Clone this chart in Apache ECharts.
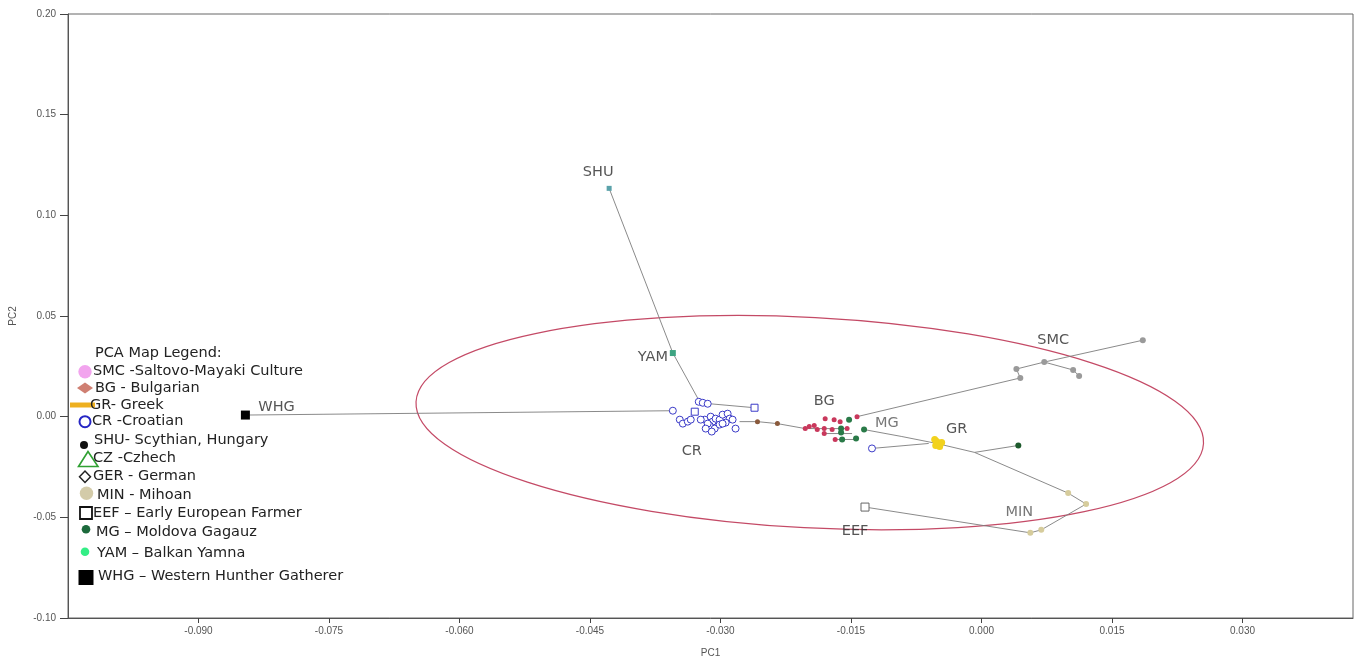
<!DOCTYPE html>
<html><head><meta charset="utf-8">
<script src="https://cdn.jsdelivr.net/npm/echarts@6/dist/echarts.min.js"></script>
<style>html,body{margin:0;padding:0;background:#fff}#c{width:1357px;height:663px}</style>
</head><body><div id="c"></div>
<script>
// ---- axes ----
const xMin = -0.105, xMax = 0.0427, xStep = 0.015;
const yMin = -0.10, yMax = 0.20, yStep = 0.05;
const xName = 'PC1', yName = 'PC2';

// ---- points (PC1, PC2) ----
const whg = [[-0.08461, 0.0008]];
const shu = [[-0.04280, 0.1134]];
const yam = [[-0.03548, 0.0316]];
const eef = [[-0.01339, -0.0449]];
const crCircles = [
  [-0.03548, 0.00296], [-0.03250, 0.00740], [-0.03204, 0.00690], [-0.03147, 0.00641],
  [-0.03468, -0.00148], [-0.03433, -0.00345], [-0.03376, -0.00247], [-0.03342, -0.00148],
  [-0.03181, -0.00148], [-0.03113, 0.0], [-0.03090, -0.00247], [-0.03056, -0.00099],
  [-0.03010, -0.00148], [-0.02976, 0.00099], [-0.02918, 0.00148], [-0.02895, -0.00099],
  [-0.02861, -0.00148], [-0.02941, -0.00296], [-0.03124, -0.00444], [-0.03067, -0.00592],
  [-0.03101, -0.00740], [-0.02827, -0.00592], [-0.03147, -0.00345], [-0.03010, -0.00394],
  [-0.02976, -0.00345], [-0.03227, -0.00148], [-0.03170, -0.00592], [-0.01259, -0.01578]
];
const crSquares = [[-0.03296, 0.00247], [-0.02609, 0.00444]];
const bg = [
  [-0.02026, -0.00592], [-0.01980, -0.00493], [-0.01923, -0.00444], [-0.01797, -0.00099],
  [-0.01694, -0.00148], [-0.01625, -0.00247], [-0.01431, 0.0], [-0.01808, -0.00592],
  [-0.01717, -0.00641], [-0.01808, -0.00838], [-0.01682, -0.01134], [-0.01888, -0.00641],
  [-0.01545, -0.00592]
];
const bgBrown = [[-0.02575, -0.00247], [-0.02346, -0.00345]];
const mg = [
  [-0.01522, -0.00148], [-0.01614, -0.00592], [-0.01614, -0.00789], [-0.01350, -0.00641],
  [-0.01442, -0.01085], [-0.01602, -0.01134]
];
const mgFar = [[0.00423, -0.01430]];
const gr = [
  [-0.00538, -0.01134], [-0.00504, -0.01331], [-0.00481, -0.01479], [-0.00515, -0.01233],
  [-0.00458, -0.01282], [-0.00526, -0.01430]
];
const smc = [
  [0.01854, 0.03797], [0.00721, 0.02712], [0.00401, 0.02367], [0.00446, 0.01923],
  [0.01053, 0.02318], [0.01122, 0.02022]
];
const minoan = [[0.00996, -0.03797], [0.01202, -0.04339], [0.00687, -0.05621], [0.00561, -0.05769]];

// ---- tree connections ----
const treePaths = [
  [[-0.08461, 0.0008], [-0.03548, 0.00296]],
  [[-0.04280, 0.1134], [-0.03548, 0.0316], [-0.03239, 0.0074]],
  [[-0.03250, 0.0069], [-0.02609, 0.00444]],
  [[-0.02781, -0.00247], [-0.02575, -0.00247], [-0.02346, -0.00345], [-0.02026, -0.00592]],
  [[-0.02026, -0.00592], [-0.01545, -0.00592]],
  [[-0.01808, -0.00838], [-0.01488, -0.00838]],
  [[-0.01682, -0.01134], [-0.01431, -0.01134]],
  [[-0.01431, 0.0], [0.00446, 0.01923], [0.00401, 0.02367], [0.00721, 0.02712], [0.01053, 0.02318], [0.01122, 0.02022]],
  [[0.00721, 0.02712], [0.01854, 0.03797]],
  [[-0.01350, -0.00641], [-0.00916, -0.00986], [-0.00515, -0.01331]],
  [[-0.01259, -0.01578], [-0.00607, -0.01331]],
  [[-0.00515, -0.01331], [-0.00080, -0.01775], [0.00423, -0.01430]],
  [[-0.00080, -0.01775], [0.00996, -0.03797], [0.01202, -0.04339], [0.00687, -0.05621], [0.00561, -0.05769]],
  [[-0.01339, -0.0449], [0.00561, -0.05769]]
];

// ---- group labels ----
const labelNames = ['SHU', 'YAM', 'WHG', 'CR', 'BG', 'MG', 'GR', 'SMC', 'MIN', 'EEF'];
const labelPos = [
  [-0.04406, 0.1213], [-0.03777, 0.0296], [-0.08103, 0.0049], [-0.0333, -0.0173],
  [-0.01808, 0.0079], [-0.01087, -0.00345], [-0.00286, -0.0064], [0.00824, 0.0380],
  [0.00435, -0.0473], [-0.01453, -0.0567]
];
const labelGrey = ['MG', 'MIN'];

// ---- confidence ellipse: centre x, centre y, radius x, radius y ----
const ellipse = [-0.01974, -0.00296, 0.04532, 0.05227];

// ---- legend ----
const legendTitle = 'PCA Map Legend:';
const legendLabels = [
  'SMC -Saltovo-Mayaki Culture', 'BG - Bulgarian', 'GR- Greek', 'CR -Croatian',
  'SHU- Scythian, Hungary', 'CZ -Czhech', 'GER - German', 'MIN - Mihoan',
  'EEF \u2013 Early European Farmer', 'MG \u2013 Moldova Gagauz', 'YAM \u2013 Balkan Yamna',
  'WHG \u2013 Western Hunther Gatherer'
];

const chart = echarts.init(document.getElementById('c'), null, {renderer: 'canvas'});
const FONT = 'Liberation Sans, Arial, sans-serif';
const LFONT = 'DejaVu Sans, sans-serif';

function sc(name, data, symbol, size, color, hollow, z) {
  return {
    type: 'scatter', name, data, symbol, symbolSize: size, z: z || 5,
    itemStyle: hollow ? {color: '#fff', borderColor: color, borderWidth: 1, opacity: 1}
                      : {color, opacity: 1},
    emphasis: {disabled: true}
  };
}

// legend graphics
const legRowY = [371.7, 388.3, 405, 421.7, 440, 458.3, 476.7, 495, 513.3, 532, 553, 576.7];
const legTextX = [93, 95, 90, 92, 94, 93, 93, 97, 93, 96, 97, 98];
const legSymbols = [
  {type: 'circle', shape: {cx: 85, cy: 371.7, r: 6.7}, style: {fill: '#f2a4ee'}},
  {type: 'polygon', shape: {points: [[77, 388], [85, 382.5], [93, 388], [85, 393.5]]}, style: {fill: '#cf7f72'}},
  {type: 'rect', shape: {x: 70, y: 402.5, width: 25, height: 5}, style: {fill: '#eeb020'}},
  {type: 'circle', shape: {cx: 85, cy: 421.7, r: 5.5}, style: {fill: 'none', stroke: '#2626c4', lineWidth: 2}},
  {type: 'circle', shape: {cx: 84, cy: 445, r: 4}, style: {fill: '#111'}},
  {type: 'polygon', shape: {points: [[88, 451.5], [78.5, 466.5], [98, 466.5]]}, style: {fill: 'none', stroke: '#2fa032', lineWidth: 1.6}},
  {type: 'polygon', shape: {points: [[79.5, 476.7], [85, 471], [90.5, 476.7], [85, 482.4]]}, style: {fill: 'none', stroke: '#222', lineWidth: 1.5}},
  {type: 'circle', shape: {cx: 86.5, cy: 493.3, r: 6.7}, style: {fill: '#d3cba9'}},
  {type: 'rect', shape: {x: 80, y: 507, width: 12, height: 12}, style: {fill: 'none', stroke: '#111', lineWidth: 1.8}},
  {type: 'circle', shape: {cx: 86, cy: 529.3, r: 4.3}, style: {fill: '#1c6a3c'}},
  {type: 'circle', shape: {cx: 85, cy: 551.7, r: 4.3}, style: {fill: '#33ee86'}},
  {type: 'rect', shape: {x: 78.5, y: 570, width: 15, height: 15}, style: {fill: '#000'}}
];
const legendGraphics = [
  {type: 'text', x: 95, y: 353.3, style: {text: legendTitle, font: '14.5px ' + LFONT, fill: '#222', verticalAlign: 'middle'}}
].concat(legSymbols).concat(legendLabels.map((t, i) => ({
  type: 'text', x: legTextX[i], y: legRowY[i],
  style: {text: t, font: '14.5px ' + LFONT, fill: '#222', verticalAlign: 'middle'}
})));

const option = {
  animation: false,
  backgroundColor: '#fff',
  grid: {left: 62, right: 4, top: 14, bottom: 42, show: true, borderColor: '#666', borderWidth: 1},
  xAxis: {
    type: 'value', min: xMin, max: xMax, interval: xStep,
    name: xName, nameLocation: 'middle', nameGap: 30,
    nameTextStyle: {fontSize: 10, color: '#555', fontFamily: FONT},
    axisLine: {onZero: false, lineStyle: {color: '#555', width: 1}},
    axisTick: {show: true, length: 5, lineStyle: {color: '#444'}},
    splitLine: {show: false},
    axisLabel: {
      fontSize: 10, color: '#555', fontFamily: FONT, margin: 8, showMinLabel: false, showMaxLabel: false,
      formatter: v => (Math.abs(v) < 1e-9 ? 0 : v).toFixed(3)
    }
  },
  yAxis: {
    type: 'value', min: yMin, max: yMax, interval: yStep,
    name: yName, nameLocation: 'middle', nameGap: 50, nameRotate: 90,
    nameTextStyle: {fontSize: 10, color: '#555', fontFamily: FONT},
    axisLine: {show: true, onZero: false, lineStyle: {color: '#555', width: 1}},
    axisTick: {show: true, length: 8, lineStyle: {color: '#444'}},
    splitLine: {show: false},
    axisLabel: {
      fontSize: 10, color: '#555', fontFamily: FONT, margin: 12,
      formatter: v => (Math.abs(v) < 1e-9 ? 0 : v).toFixed(2)
    }
  },
  graphic: legendGraphics,
  series: [
    {
      type: 'custom', name: 'ellipse', z: 1, silent: true,
      data: [ellipse],
      renderItem: (params, api) => {
        const c = api.coord([api.value(0), api.value(1)]);
        const s = api.size([api.value(2), api.value(3)]);
        return {
          type: 'ellipse', x: c[0], y: c[1], rotation: -0.053,
          shape: {cx: 0, cy: 0, rx: s[0], ry: s[1]},
          style: {fill: 'none', stroke: '#c44a66', lineWidth: 1.2}
        };
      }
    },
    {
      type: 'lines', coordinateSystem: 'cartesian2d', polyline: true, z: 2, silent: true,
      lineStyle: {color: '#7d7d7d', width: 1, opacity: 0.9},
      data: treePaths.map(p => ({coords: p}))
    },
    sc('SMC', smc, 'circle', 6, '#9a9a9a'),
    sc('MIN', minoan, 'circle', 6, '#d6cc9c'),
    sc('BG', bg, 'circle', 5, '#c9385c'),
    sc('BGb', bgBrown, 'circle', 5, '#8a5a3c'),
    sc('MG', mg, 'circle', 6, '#2a7a48'),
    sc('MGfar', mgFar, 'circle', 6, '#1d5a2c'),
    sc('GR', gr, 'circle', 7, '#f2d21e'),
    sc('CR', crCircles, 'circle', 7, '#3b3bc8', true),
    sc('CRs', crSquares, 'rect', 7, '#3b3bc8', true),
    sc('SHU', shu, 'rect', 5, '#5aa2aa'),
    sc('YAM', yam, 'rect', 6, '#3ea482'),
    sc('EEF', eef, 'rect', 8, '#666', true),
    sc('WHG', whg, 'rect', 9, '#000'),
    {
      type: 'scatter', name: 'labels', symbolSize: 0, z: 6, silent: true,
      data: labelNames.map((n, i) => ({
        name: n, value: labelPos[i],
        label: {color: labelGrey.includes(n) ? '#555' : '#2a2a2a'}
      })),
      label: {show: true, position: 'inside', formatter: p => p.name, fontSize: 14.5, fontFamily: LFONT}
    }
  ]
};
chart.setOption(option);
</script>
</body></html>
